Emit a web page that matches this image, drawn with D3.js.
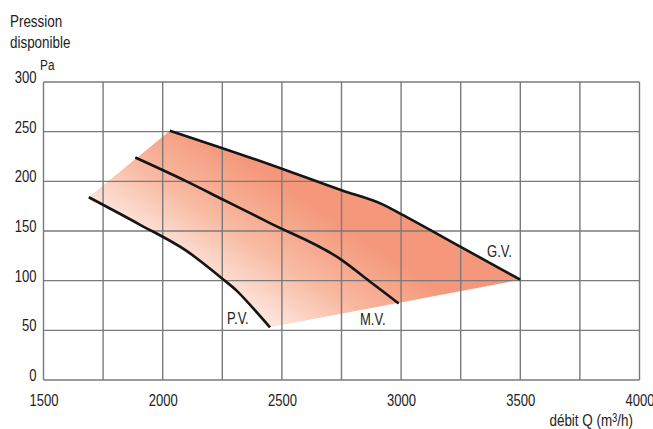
<!DOCTYPE html>
<html><head><meta charset="utf-8">
<script src="https://cdn.jsdelivr.net/npm/d3@7"></script>
<style>
html,body{margin:0;padding:0;background:#fff;}
svg text{font-family:"Liberation Sans",Arial,sans-serif;fill:#222;}
</style></head>
<body><svg id="c" width="653" height="429"></svg>
<script>
// Data
const xTicks = [1500, 2000, 2500, 3000, 3500, 4000];
const yTicks = [0, 50, 100, 150, 200, 250, 300];
const xGrid = [1500, 1750, 2000, 2250, 2500, 2750, 3000, 3250, 3500, 3750, 4000];
const curvePV = [[1690,184],[1900,157],[2100,130],[2250,102],[2310,90],[2380,72],[2450,53]];
const curveMV = [[1885,224],[2100,200],[2250,182],[2450,158],[2750,121],[2870,99],[2990,77]];
const curveGV = [[2030,251],[2450,217],[2750,191],[2920,177],[3000,167],[3250,134],[3500,101]];
const curveNames = ["P.V.", "M.V.", "G.V."];

const SX = 0.79; // condensed look
const svg = d3.select("#c");
const x = d3.scaleLinear().domain([1500, 4000]).range([43.5, 639.5]);
const y = d3.scaleLinear().domain([0, 300]).range([380, 82]);

function narrowText(sel, px, py, anchor, size, str){
  return sel.append("text")
    .attr("transform",`translate(${px},${py}) scale(${SX},1)`)
    .attr("text-anchor",anchor||"start").attr("font-size",size).text(str);
}

// gradient
const defs = svg.append("defs");
const grad = defs.append("linearGradient").attr("id","g")
  .attr("gradientUnits","userSpaceOnUse")
  .attr("x1",250).attr("y1",335).attr("x2",330).attr("y2",215);
grad.append("stop").attr("offset","0").attr("stop-color","#fff6f2");
grad.append("stop").attr("offset","0.55").attr("stop-color","#f8b9a1");
grad.append("stop").attr("offset","1").attr("stop-color","#f4977a");

// fill region
const region = [curvePV[0]].concat(curveGV, [curvePV[curvePV.length-1]], curvePV.slice().reverse());
svg.append("path")
  .attr("d", d3.line().x(d=>x(d[0])).y(d=>y(d[1]))(region) + "Z")
  .attr("fill","url(#g)");

// grid
const grid = svg.append("g").attr("stroke","#7a7a7a").attr("stroke-width",1.4);
grid.selectAll("line.v").data(xGrid).join("line").attr("class","v")
  .attr("x1",d=>x(d)).attr("x2",d=>x(d)).attr("y1",y(300)).attr("y2",y(0));
grid.selectAll("line.h").data(yTicks).join("line").attr("class","h")
  .attr("x1",x(1500)).attr("x2",x(4000)).attr("y1",d=>y(d)).attr("y2",d=>y(d));

// axes
const yAxis = svg.append("g").attr("transform",`translate(${x(1500)},0)`)
  .call(d3.axisLeft(y).tickValues(yTicks).tickSize(0).tickPadding(9));
yAxis.select(".domain").remove();
yAxis.selectAll("text").attr("font-size",16.5).attr("dy","0.02em")
  .attr("transform",`scale(${SX},1)`)
  .style("font-family",'"Liberation Sans",Arial,sans-serif').attr("fill","#222");

const xAxis = svg.append("g").attr("transform",`translate(0,${y(0)})`)
  .call(d3.axisBottom(x).tickValues(xTicks).tickFormat(d3.format("d")).tickSize(0).tickPadding(14));
xAxis.select(".domain").remove();
xAxis.selectAll("text").attr("font-size",16.5)
  .attr("transform",`scale(${SX},1)`)
  .style("font-family",'"Liberation Sans",Arial,sans-serif').attr("fill","#222");

// curves
const line = d3.line().x(d=>x(d[0])).y(d=>y(d[1])).curve(d3.curveMonotoneX);
[curvePV, curveMV, curveGV].forEach(c => {
  svg.append("path").attr("d", line(c)).attr("fill","none")
    .attr("stroke","#151515").attr("stroke-width",2.6);
});

// curve labels
const lblPos = [[227,324],[360,325],[487,257]];
curveNames.forEach((n,i)=> narrowText(svg, lblPos[i][0], lblPos[i][1], "start", 16.5, n));

// titles
narrowText(svg, 10, 27, "start", 17, "Pression");
narrowText(svg, 10, 48, "start", 17, "disponible");
narrowText(svg, 40, 70, "start", 15, "Pa");
const xt = svg.append("text").attr("transform",`translate(633,426) scale(${SX},1)`)
  .attr("text-anchor","end").attr("font-size",17);
xt.append("tspan").text("débit Q (m");
xt.append("tspan").attr("font-size",12).attr("dy",-4).text("3");
xt.append("tspan").attr("dy",4).text("/h)");
</script></body></html>
